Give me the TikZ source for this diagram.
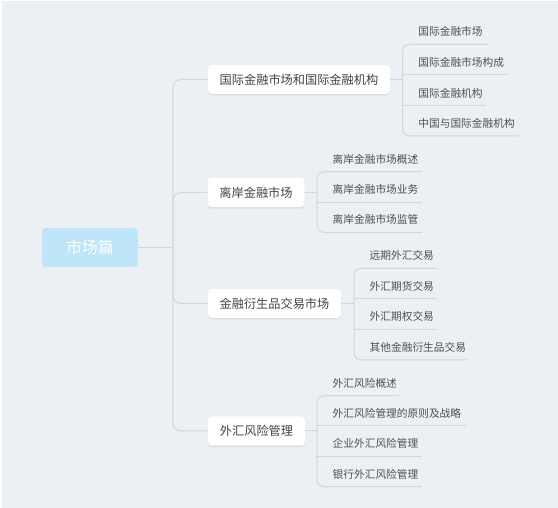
\documentclass[tikz,border=0pt]{standalone}
\usepackage{fontspec}
\setmainfont{Noto Sans CJK SC}
\usetikzlibrary{shadows}
\definecolor{bgc}{HTML}{ECEFF3}
\definecolor{linec}{HTML}{D2D7DF}
\definecolor{rootc}{HTML}{BFE5F9}
\definecolor{txtc}{HTML}{444444}
\definecolor{leaftxt}{HTML}{505050}
\tikzset{
  conn/.style={draw=linec, line width=1pt},
  rootbox/.style={fill=rootc, rounded corners=4pt, minimum width=96pt, minimum height=39pt,
    text=white, font=\fontsize{16pt}{18pt}\selectfont, inner sep=0pt},
  branchbox/.style={fill=white, rounded corners=4pt, minimum height=29pt, inner sep=0pt,
    text=txtc, font=\fontsize{12.2pt}{14pt}\selectfont,
    drop shadow={opacity=0.13, shadow xshift=0pt, shadow yshift=-1.6pt}},
  leafnode/.style={anchor=south west, minimum height=25pt, inner xsep=0pt, inner ysep=0pt,
    text width=#1, align=left, text=leaftxt, font=\fontsize{10.7pt}{12pt}\selectfont},
}
\newcommand{\lf}[1]{\hspace*{15.5pt}#1}
\begin{document}
\begin{tikzpicture}[x=1pt,y=-1pt]
\useasboundingbox (0,0) rectangle (558,508);
\fill[white] (0,0) rectangle (558,508);
\fill[bgc] (1.5,1.5) rectangle (558,508);

% root and branches
\node[rootbox] (root) at (90,247.5) {市场篇};
\coordinate (trunk) at (172.8,247.5);
\node[branchbox, minimum width=182pt] (b1) at (299,79.5) {国际金融市场和国际金融机构};
\node[branchbox, minimum width=97pt] (b2) at (256,192.5) {离岸金融市场};
\node[branchbox, minimum width=133pt] (b3) at (274.5,303.5) {金融衍生品交易市场};
\node[branchbox, minimum width=97pt] (b4) at (256.5,431) {外汇风险管理};

% leaves group 1
\node[leafnode=85.3pt] (l11) at (402.7,44.3) {\lf{国际金融市场}};
\node[leafnode=105.3pt] (l12) at (402.7,75) {\lf{国际金融市场构成}};
\node[leafnode=83.3pt] (l13) at (402.7,105.7) {\lf{国际金融机构}};
\node[leafnode=115.8pt] (l14) at (402.7,136) {\lf{中国与国际金融机构}};
% leaves group 2
\node[leafnode=104.6pt] (l21) at (317,171.7) {\lf{离岸金融市场概述}};
\node[leafnode=104.6pt] (l22) at (317,202.3) {\lf{离岸金融市场业务}};
\node[leafnode=104.6pt] (l23) at (317,232.3) {\lf{离岸金融市场监管}};
% leaves group 3
\node[leafnode=82.6pt] (l31) at (354,268.3) {\lf{远期外汇交易}};
\node[leafnode=82.6pt] (l32) at (354,299) {\lf{外汇期货交易}};
\node[leafnode=82.6pt] (l33) at (354,329.3) {\lf{外汇期权交易}};
\node[leafnode=113pt] (l34) at (354,360) {\lf{其他金融衍生品交易}};
% leaves group 4
\node[leafnode=82pt] (l41) at (317,395.7) {\lf{外汇风险概述}};
\node[leafnode=149pt] (l42) at (317,426) {\lf{外汇风险管理的原则及战略}};
\node[leafnode=104.6pt] (l43) at (317,456) {\lf{企业外汇风险管理}};
\node[leafnode=104.6pt] (l44) at (317,486.7) {\lf{银行外汇风险管理}};

% connectors root -> branches
\begin{scope}[on background layer/.style={}]
\draw[conn] (root.east) -- (trunk);
\foreach \b in {b1,b2,b3,b4}{
  \draw[conn, rounded corners=8pt] (trunk) |- (\b.west);
}
\end{scope}

% branch -> leaves
\draw[conn] (b1.east) -- (b1.east -| l11.south west);
\draw[conn, rounded corners=7pt] (l11.south east) -- (l11.south west) -- (l14.south west) -- (l14.south east);
\draw[conn] (l12.south west) -- (l12.south east);
\draw[conn] (l13.south west) -- (l13.south east);

\draw[conn] (b2.east) -- (b2.east -| l21.south west);
\draw[conn, rounded corners=7pt] (l21.south east) -- (l21.south west) -- (l23.south west) -- (l23.south east);
\draw[conn] (l22.south west) -- (l22.south east);

\draw[conn] (b3.east) -- (b3.east -| l31.south west);
\draw[conn, rounded corners=7pt] (l31.south east) -- (l31.south west) -- (l34.south west) -- (l34.south east);
\draw[conn] (l32.south west) -- (l32.south east);
\draw[conn] (l33.south west) -- (l33.south east);

\draw[conn] (b4.east) -- (b4.east -| l41.south west);
\draw[conn, rounded corners=7pt] (l41.south east) -- (l41.south west) -- (l44.south west) -- (l44.south east);
\draw[conn] (l42.south west) -- (l42.south east);
\draw[conn] (l43.south west) -- (l43.south east);
\end{tikzpicture}
\end{document}
